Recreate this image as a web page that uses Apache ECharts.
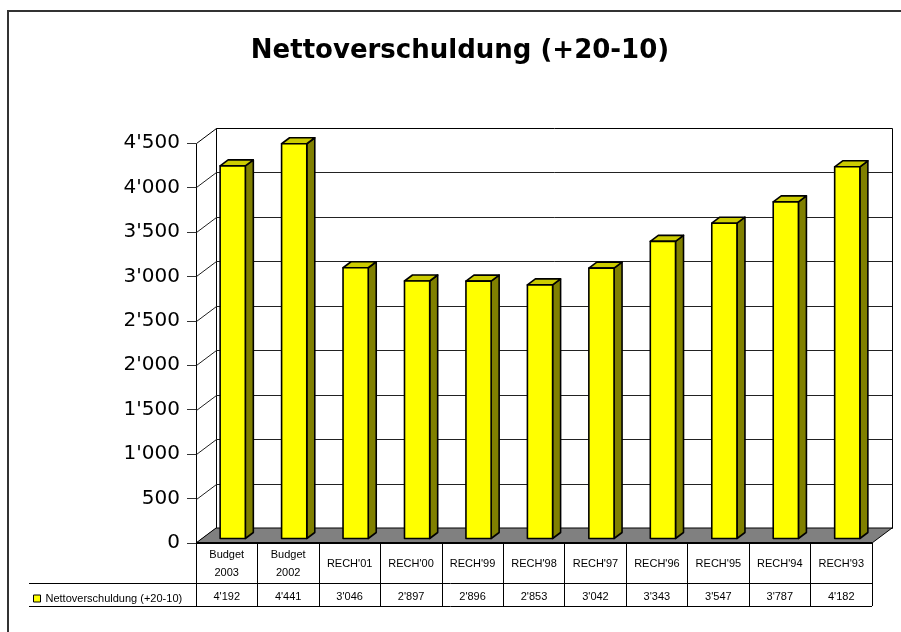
<!DOCTYPE html>
<html>
<head>
<meta charset="utf-8">
<script src="https://cdn.jsdelivr.net/npm/echarts@6/dist/echarts.min.js"></script>
<style>
html,body{margin:0;padding:0;background:#fff;}
#chart{width:901px;height:632px;}
</style>
</head>
<body>
<div id="chart"></div>
<script>
// ---- data ----
const chartTitle = 'Nettoverschuldung (+20-10)';
const seriesName = 'Nettoverschuldung (+20-10)';
const categories = ['Budget\n2003', 'Budget\n2002', "RECH'01", "RECH'00", "RECH'99", "RECH'98", "RECH'97", "RECH'96", "RECH'95", "RECH'94", "RECH'93"];
const values = [4192, 4441, 3046, 2897, 2896, 2853, 3042, 3343, 3547, 3787, 4182];
const yTicks = [0, 500, 1000, 1500, 2000, 2500, 3000, 3500, 4000, 4500];
const yMin = 0, yMax = 4500, yStep = 500;

// ---- helpers ----
function fmt(v) {
  if (v >= 1000) return Math.floor(v / 1000) + "'" + String(v % 1000).padStart(3, '0');
  return String(v);
}
const DX = 20, DY = -15;          // depth of the 3D box
const F1 = 0.3, F2 = 0.7;         // bar front/back position in the depth
const BAR_W = 0.41;               // bar width as share of category

function renderFrame(params, api) {
  const cs = params.coordSys;
  const x0 = cs.x, x1 = cs.x + cs.width, yT = cs.y, yB = cs.y + cs.height;
  const children = [];
  if (params.dataIndex === 0) {
    children.push({type: 'rect', shape: {x: x0 + DX + 0.5, y: yT + DY + 0.5, width: cs.width, height: cs.height},
      style: {fill: '#fff', stroke: '#000', lineWidth: 1}});
    children.push({type: 'polygon', shape: {points: [[x0 + 0.5, yB], [x0 + 0.5, yT + 0.5], [x0 + DX + 0.5, yT + DY + 0.5], [x0 + DX + 0.5, yB + DY]]},
      style: {fill: '#fff', stroke: '#000', lineWidth: 1}});
    children.push({type: 'polygon', shape: {points: [[x0, yB], [x1, yB], [x1 + DX, yB + DY], [x0 + DX, yB + DY]]},
      style: {fill: '#808080', stroke: '#000', lineWidth: 1}});
    children.push({type: 'line', shape: {x1: x0, y1: yB, x2: x1, y2: yB},
      style: {stroke: '#000', lineWidth: 2}});
  } else {
    const y = Math.round(api.coord([0, api.value(1)])[1]) + 0.5;
    if (api.value(1) < yMax) {
      children.push({type: 'polyline', shape: {points: [[x0 + 0.5, y], [x0 + DX + 0.5, y + DY], [x1 + DX, y + DY]]},
        style: {fill: null, stroke: '#222', lineWidth: 1}});
    }
  }
  return {type: 'group', children: children};
}

function renderBar(params, api) {
  const i = api.value(0), v = api.value(1);
  const base = api.coord([i, 0]);
  const top = api.coord([i, v]);
  const w = api.size([1, 0])[0] * BAR_W;
  const sx = DX * F1, sy = DY * F1, bx = DX * F2, by = DY * F2;
  const l = base[0] - w / 2, r = base[0] + w / 2;
  const yb = base[1], yt = top[1];
  const st = {stroke: '#000', lineWidth: 1.6, lineJoin: 'round'};
  return {type: 'group', children: [
    {type: 'polygon', shape: {points: [[r + sx, yb + sy], [r + sx, yt + sy], [r + bx, yt + by], [r + bx, yb + by]]},
      style: Object.assign({fill: '#808000'}, st)},
    {type: 'polygon', shape: {points: [[l + sx, yt + sy], [r + sx, yt + sy], [r + bx, yt + by], [l + bx, yt + by]]},
      style: Object.assign({fill: '#CCCC00'}, st)},
    {type: 'rect', shape: {x: l + sx, y: yt + sy, width: w, height: yb - yt},
      style: Object.assign({fill: '#FFFF00'}, st)}
  ]};
}

const chart = echarts.init(document.getElementById('chart'), null, {renderer: 'canvas'});
const tableFont = 'Arial, "Liberation Sans", sans-serif';

chart.setOption({
  backgroundColor: '#fff',
  animation: false,
  grid: {left: 196, top: 143, width: 676, height: 400, containLabel: false},
  legend: {
    data: [seriesName], left: 33, top: 593, padding: 0,
    icon: 'rect', itemWidth: 7, itemHeight: 7,
    itemStyle: {borderColor: '#000', borderWidth: 1},
    textStyle: {fontSize: 11, fontFamily: tableFont, color: '#000'}
  },
  xAxis: [
    {
      type: 'category', data: categories, position: 'bottom',
      axisLine: {show: false},
      axisTick: {show: true, length: 63, lineStyle: {color: '#000', width: 1}},
      axisLabel: {interval: 0, margin: 21, verticalAlign: 'middle', fontSize: 11, lineHeight: 18,
        fontFamily: tableFont, color: '#000'},
      splitLine: {show: false}
    },
    {
      type: 'category', data: values.map(fmt), position: 'bottom',
      axisLine: {show: false}, axisTick: {show: false},
      axisLabel: {interval: 0, margin: 54, verticalAlign: 'middle', fontSize: 11,
        fontFamily: tableFont, color: '#000'},
      splitLine: {show: false}
    }
  ],
  yAxis: {
    type: 'value', min: yMin, max: yMax, interval: yStep,
    axisLine: {show: false},
    axisTick: {show: true, length: 9, lineStyle: {color: '#333'}},
    axisLabel: {margin: 16, fontSize: 20, fontFamily: '"DejaVu Sans", sans-serif', color: '#000', formatter: fmt},
    splitLine: {show: false}
  },
  series: [
    {
      type: 'custom', name: 'frame', z: 1, silent: true,
      renderItem: renderFrame,
      data: yTicks.map(v => [0, v])
    },
    {
      type: 'custom', name: seriesName, z: 2,
      itemStyle: {color: '#FFFF00'},
      renderItem: renderBar,
      encode: {x: 0, y: 1},
      data: values.map((v, i) => [i, v])
    }
  ],
  graphic: [
    {type: 'rect', z: 0, shape: {x: 8, y: 11, width: 1000, height: 800},
      style: {fill: null, stroke: '#333', lineWidth: 2}},
    {type: 'line', shape: {x1: 29, y1: 583.5, x2: 872, y2: 583.5}, style: {stroke: '#000', lineWidth: 1}},
    {type: 'line', shape: {x1: 29, y1: 606.5, x2: 872, y2: 606.5}, style: {stroke: '#000', lineWidth: 1}},
    {type: 'text', x: 460, y: 51, style: {text: chartTitle, fontSize: 26, fontWeight: 'bold',
      fontFamily: '"DejaVu Sans", sans-serif', fill: '#000', align: 'center', verticalAlign: 'middle'}}
  ]
});
</script>
</body>
</html>
